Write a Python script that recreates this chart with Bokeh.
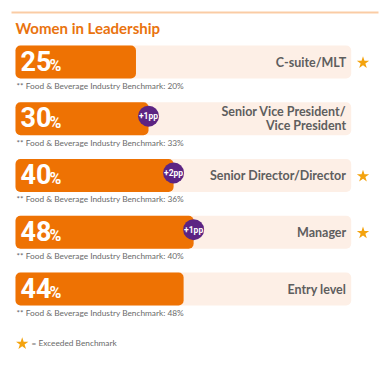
from bokeh.plotting import figure
from bokeh.models import Range1d, ColumnDataSource
from bokeh.core.properties import value
from bokeh.embed import file_html
from bokeh.resources import INLINE

# ---------------- data ----------------
TITLE = "Women in Leadership"
CATEGORIES = ["C-suite/MLT", "Senior Vice President/\nVice President",
              "Senior Director/Director", "Manager", "Entry level"]
WOMEN_PCT = [25, 30, 40, 48, 44]
BENCHMARK_PCT = [20, 33, 36, 40, 48]
CHANGE_PP = [None, 1, 2, 1, None]
BENCH_LABEL = "** Food & Beverage Industry Benchmark: {}%"
LEGEND_LABEL = "= Exceeded Benchmark"

# ---------------- layout / style ----------------
W, H = 380, 366
X_ZERO_PX = 72.8
PX_PER_PCT = 2.507
ROW0_PX = 61.5
ROW_PX = 56.75
BASE_FIX = 0.43  # svg baseline correction (fraction of font size)

def px_x(px):
    return (px - X_ZERO_PX) / PX_PER_PCT

def px_y(px):
    return (px - ROW0_PX) / ROW_PX

def boff(offset, fs):
    return offset - BASE_FIX * fs

ORANGE = "#EE7203"
TRACK = "#FDEFE6"
PURPLE = "#5C2483"
STAR = "#F4A30E"
LABEL_GRAY = "#5E5E5E"
NOTE_GRAY = "#6A6A6A"
NARROW = value("Roboto")
LATO = value("Lato")

TRACK_LEFT = px_x(15)
TRACK_RIGHT = px_x(350.7)
BAR_H = 33 / ROW_PX

p = figure(width=W, height=H, output_backend="svg", toolbar_location=None,
           x_range=Range1d(px_x(0), px_x(W)),
           y_range=Range1d(px_y(H), px_y(0)),
           min_border=0, outline_line_color=None)
p.axis.visible = False
p.grid.visible = False
p.background_fill_color = "white"
p.border_fill_color = "white"

rows = list(range(len(CATEGORIES)))

# decorative top rule
p.segment(x0=[px_x(11)], y0=[px_y(12)], x1=[px_x(378)], y1=[px_y(12)],
          line_color="#F9C69B", line_width=2, line_alpha=0.9)

# title
p.text(x=[TRACK_LEFT], y=[px_y(33.5)], text=[TITLE], text_font=LATO,
       y_offset=boff(0, 15),
       text_font_style="bold", text_font_size="15px", text_color="#E9730E",
       text_baseline="alphabetic", text_align="left")

# tracks + bars
src = ColumnDataSource(dict(
    y=rows, v=WOMEN_PCT,
    pct=[str(v) for v in WOMEN_PCT],
    sign=["%"] * len(rows),
    bench=[BENCH_LABEL.format(b) for b in BENCHMARK_PCT],
))
p.hbar(y=rows, left=TRACK_LEFT, right=TRACK_RIGHT, height=BAR_H,
       fill_color=TRACK, line_color=None, border_radius=5)
p.hbar(y="y", left=TRACK_LEFT, right="v", height=BAR_H, source=src,
       fill_color=ORANGE, line_color=None, border_radius=5)

# percentage labels
p.text(x=TRACK_LEFT, y="y", text="pct", source=src, x_offset=5,
       y_offset=boff(10.2, 27), text_font=NARROW, text_font_style="bold",
       text_font_size="27px", text_color="white",
       text_baseline="alphabetic", text_align="left")
p.text(x=TRACK_LEFT, y="y", text="sign", source=src, x_offset=34,
       y_offset=boff(10.2, 16), text_font=NARROW, text_font_style="bold",
       text_font_size="16px", text_color="white",
       text_baseline="alphabetic", text_align="left")

# benchmark notes
p.text(x=TRACK_LEFT, y="y", text="bench", source=src, x_offset=1,
       y_offset=boff(27.5, 8.3), text_font=LATO, text_font_size="8.3px",
       text_color=NOTE_GRAY, text_baseline="alphabetic", text_align="left")

# category labels (right aligned inside the track)
lx, ly, lt, loff = [], [], [], []
for r, cat in zip(rows, CATEGORIES):
    lines = cat.split("\n")
    n = len(lines)
    for i, line in enumerate(lines):
        lx.append(TRACK_RIGHT)
        ly.append(r)
        lt.append(line)
        loff.append(boff(5.5 + (i - (n - 1) / 2) * 14, 12.5))
p.text(x=lx, y=ly, text=lt, y_offset=loff, x_offset=-5, text_font=LATO,
       text_font_style="bold", text_font_size="12.5px", text_color=LABEL_GRAY,
       text_baseline="alphabetic", text_align="right")

# change badges
bx = [v for v, c in zip(WOMEN_PCT, CHANGE_PP) if c is not None]
by = [r - 2.6 / ROW_PX for r, c in zip(rows, CHANGE_PP) if c is not None]
bt = [f"+{c}pp" for c in CHANGE_PP if c is not None]
p.scatter(x=bx, y=by, marker="circle", size=21, fill_color=PURPLE,
          line_color=None)
p.text(x=bx, y=by, text=bt, text_font=NARROW, text_font_style="bold",
       text_font_size="8.5px", text_color="white", text_align="center",
       text_baseline="middle")

# stars where benchmark exceeded
sy = [r for r, v, b in zip(rows, WOMEN_PCT, BENCHMARK_PCT) if v > b]
p.scatter(x=[px_x(362.5)] * len(sy), y=[y + 0.015 for y in sy], marker="star",
          size=13, fill_color=STAR, line_color=None)

# legend
p.scatter(x=[px_x(21.7)], y=[px_y(343.3)], marker="star", size=13,
          fill_color=STAR, line_color=None)
p.text(x=[px_x(31)], y=[px_y(346.5)], text=[LEGEND_LABEL], text_font=LATO,
       y_offset=boff(0, 8.3),
       text_font_size="8.3px", text_color=NOTE_GRAY,
       text_baseline="alphabetic", text_align="left")

open("out.html", "w").write(file_html(p, INLINE))
